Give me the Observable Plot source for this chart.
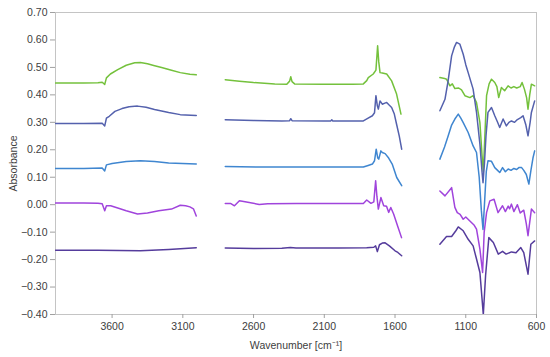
<!DOCTYPE html>
<html>
<head>
<meta charset="utf-8">
<script src="https://cdn.jsdelivr.net/npm/d3@7"></script>
<script src="https://cdn.jsdelivr.net/npm/@observablehq/plot@0.6"></script>
<style>
  html, body { margin: 0; padding: 0; background: #fff; }
  #chart { width: 550px; height: 357px; }
</style>
</head>
<body>
<div id="chart"></div>
<script>
// Tick values
const xTicks = [3600, 3100, 2600, 2100, 1600, 1100, 600];
const yTicks = [-0.4, -0.3, -0.2, -0.1, 0, 0.1, 0.2, 0.3, 0.4, 0.5, 0.6, 0.7];

// Series names and colours
const seriesNames = ["S1", "S2", "S3", "S4", "S5"];
const seriesColors = ["#74c13c", "#5461ad", "#3f86d0", "#a044dc", "#553c9c"];

// Each series: three segments of [wavenumber, absorbance]
const s1 = [
  [[4000,0.443],[3800,0.443],[3700,0.444],[3670,0.446],[3652,0.438],[3640,0.462],[3612,0.476],[3560,0.492],[3500,0.508],[3440,0.517],[3400,0.518],[3350,0.513],[3306,0.507],[3250,0.500],[3180,0.490],[3118,0.481],[3050,0.475],[3005,0.473]],
  [[2800,0.455],[2700,0.450],[2600,0.445],[2450,0.440],[2365,0.439],[2345,0.450],[2337,0.466],[2328,0.448],[2310,0.440],[2100,0.439],[1900,0.439],[1824,0.440],[1800,0.452],[1789,0.463],[1754,0.476],[1735,0.490],[1723,0.579],[1715,0.520],[1706,0.481],[1690,0.480],[1659,0.476],[1624,0.451],[1589,0.403],[1558,0.330]],
  [[1283,0.463],[1250,0.460],[1236,0.457],[1212,0.433],[1195,0.440],[1177,0.423],[1150,0.425],[1130,0.418],[1106,0.397],[1071,0.390],[1048,0.397],[1024,0.372],[1000,0.299],[985,0.180],[976,0.120],[965,0.250],[953,0.397],[935,0.440],[918,0.457],[895,0.445],[880,0.430],[867,0.390],[848,0.427],[825,0.415],[801,0.433],[780,0.425],[760,0.430],[740,0.425],[715,0.430],[702,0.445],[685,0.420],[670,0.390],[660,0.348],[648,0.400],[636,0.439],[613,0.433]]
];
const s2 = [
  [[4000,0.296],[3800,0.296],[3670,0.297],[3652,0.287],[3640,0.315],[3620,0.322],[3580,0.340],[3530,0.350],[3480,0.357],[3420,0.359],[3360,0.355],[3300,0.347],[3200,0.336],[3118,0.328],[3005,0.325]],
  [[2800,0.309],[2600,0.307],[2400,0.305],[2345,0.306],[2337,0.313],[2328,0.306],[2100,0.305],[2055,0.305],[2047,0.309],[2040,0.305],[1824,0.305],[1790,0.315],[1760,0.324],[1745,0.335],[1735,0.397],[1725,0.360],[1718,0.348],[1706,0.378],[1690,0.366],[1672,0.370],[1659,0.372],[1640,0.362],[1624,0.354],[1605,0.330],[1589,0.293],[1570,0.250],[1553,0.202]],
  [[1283,0.342],[1247,0.384],[1225,0.450],[1200,0.542],[1180,0.575],[1165,0.591],[1142,0.585],[1118,0.548],[1100,0.510],[1083,0.481],[1065,0.450],[1048,0.421],[1024,0.336],[1000,0.220],[985,0.120],[978,0.080],[968,0.150],[957,0.251],[943,0.336],[918,0.354],[895,0.324],[875,0.300],[860,0.281],[836,0.312],[813,0.287],[795,0.300],[777,0.305],[755,0.300],[735,0.310],[711,0.317],[695,0.324],[675,0.290],[660,0.251],[645,0.300],[636,0.336],[613,0.378]]
];
const s3 = [
  [[4000,0.132],[3800,0.132],[3670,0.134],[3652,0.123],[3640,0.145],[3600,0.150],[3500,0.157],[3400,0.160],[3300,0.157],[3200,0.152],[3005,0.148]],
  [[2800,0.139],[2500,0.137],[2200,0.137],[1824,0.137],[1790,0.143],[1760,0.148],[1745,0.160],[1733,0.202],[1722,0.170],[1715,0.166],[1700,0.196],[1690,0.190],[1670,0.186],[1645,0.170],[1620,0.148],[1588,0.099],[1553,0.069]],
  [[1283,0.166],[1250,0.210],[1224,0.251],[1200,0.290],[1177,0.312],[1153,0.330],[1135,0.315],[1118,0.299],[1083,0.263],[1048,0.214],[1024,0.190],[1005,0.100],[990,-0.020],[978,-0.090],[968,0.000],[955,0.120],[943,0.160],[918,0.158],[895,0.135],[875,0.125],[860,0.117],[840,0.135],[820,0.120],[800,0.130],[780,0.125],[760,0.132],[740,0.128],[725,0.135],[705,0.135],[690,0.125],[672,0.110],[654,0.075],[640,0.123],[625,0.170],[613,0.196]]
];
const s4 = [
  [[4000,0.006],[3800,0.006],[3700,0.005],[3670,0.003],[3652,-0.022],[3640,-0.004],[3610,-0.004],[3560,-0.012],[3500,-0.022],[3420,-0.034],[3350,-0.030],[3270,-0.022],[3180,-0.016],[3118,-0.002],[3080,-0.004],[3050,-0.008],[3025,-0.015],[3005,-0.041]],
  [[2800,0.004],[2760,0.004],[2735,-0.004],[2700,0.014],[2650,0.010],[2560,0.001],[2500,0.003],[2300,0.004],[2000,0.004],[1824,0.004],[1800,0.017],[1770,0.005],[1750,0.010],[1737,0.087],[1728,0.030],[1718,-0.016],[1700,0.026],[1680,-0.004],[1660,-0.006],[1645,-0.028],[1630,-0.010],[1610,-0.034],[1580,-0.080],[1554,-0.120]],
  [[1283,0.050],[1247,0.032],[1200,0.062],[1177,-0.010],[1160,-0.029],[1140,-0.035],[1118,-0.053],[1100,-0.045],[1060,-0.065],[1040,-0.075],[1024,-0.089],[1000,-0.162],[981,-0.247],[970,-0.101],[953,-0.029],[930,0.014],[900,0.020],[872,-0.029],[840,-0.004],[820,-0.025],[800,-0.005],[790,-0.015],[777,0.002],[760,-0.025],[735,0.000],[715,-0.030],[690,-0.020],[672,-0.070],[660,-0.113],[636,-0.016],[613,-0.029]]
];
const s5 = [
  [[4000,-0.166],[3700,-0.166],[3400,-0.168],[3200,-0.163],[3005,-0.157]],
  [[2800,-0.158],[2600,-0.160],[2400,-0.159],[2340,-0.156],[2300,-0.158],[2000,-0.158],[1800,-0.157],[1750,-0.155],[1737,-0.150],[1725,-0.171],[1710,-0.146],[1690,-0.140],[1670,-0.139],[1640,-0.150],[1600,-0.168],[1580,-0.174],[1553,-0.186]],
  [[1283,-0.144],[1236,-0.116],[1200,-0.116],[1170,-0.095],[1153,-0.081],[1118,-0.095],[1083,-0.126],[1048,-0.150],[1024,-0.198],[1000,-0.247],[976,-0.400],[960,-0.259],[937,-0.120],[905,-0.138],[870,-0.180],[840,-0.170],[815,-0.180],[777,-0.172],[745,-0.175],[711,-0.156],[690,-0.175],[660,-0.253],[640,-0.144],[613,-0.132]]
];

const allSeries = [s1, s2, s3, s4, s5];
const rows = [];
allSeries.forEach((segs, si) => {
  segs.forEach((seg, gi) => {
    seg.forEach(([wn, a]) => rows.push({series: seriesNames[si], seg: seriesNames[si] + "_" + gi, wn, a}));
  });
});

const font = "'Liberation Sans', Arial, sans-serif";
const chart = Plot.plot({
  width: 550,
  height: 357,
  marginLeft: 55,
  marginRight: 14,
  marginTop: 12,
  marginBottom: 43,
  style: {fontFamily: font, fontSize: "10.5px", color: "#404040", background: "#fff"},
  x: {domain: [4000, 600], ticks: xTicks},
  y: {domain: [-0.4, 0.7], ticks: yTicks},
  color: {type: "ordinal", domain: seriesNames, range: seriesColors},
  marks: [
    Plot.frame({stroke: "#c4c4c4", strokeWidth: 1}),
    Plot.axisX({ticks: xTicks, tickSize: 4, tickPadding: 4, stroke: "#a0a0a0", tickFormat: d3.format("d"), label: "Wavenumber [cm⁻¹]", labelAnchor: "center", labelArrow: "none", labelOffset: 34}),
    Plot.axisY({ticks: yTicks, tickSize: 5, tickPadding: 3, stroke: "#a0a0a0", tickFormat: d3.format(".2f"), label: "Absorbance", labelAnchor: "center", labelArrow: "none", labelOffset: 46}),
    Plot.line(rows, {x: "wn", y: "a", z: "seg", stroke: "series", strokeWidth: 1.5, curve: "linear", clip: true})
  ]
});
document.getElementById("chart").appendChild(chart);
</script>
</body>
</html>
